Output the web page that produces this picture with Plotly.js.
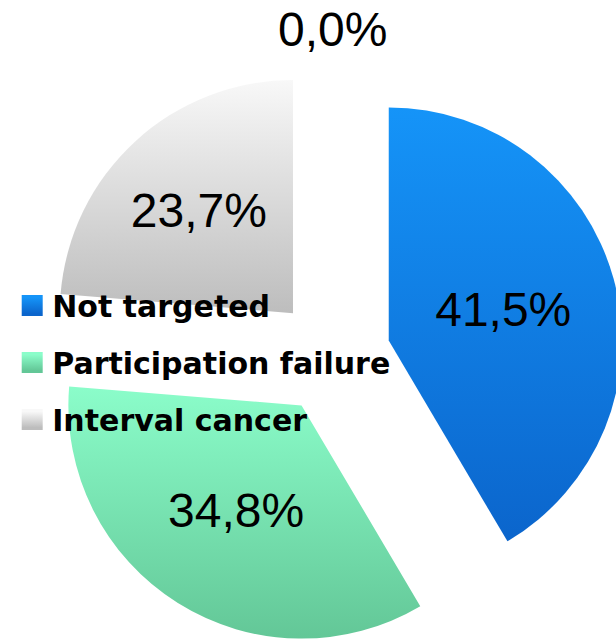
<!DOCTYPE html>
<html>
<head>
<meta charset="utf-8">
<script src="https://cdn.plot.ly/plotly-3.0.1.min.js"></script>
<style>
  html, body { margin: 0; padding: 0; background: #ffffff; overflow: hidden; }
  #chart { width: 660px; height: 700px; }
</style>
</head>
<body>
<div id="chart"></div>
<script>
// Shares of cancers by screening pathway (percent)
const categories = ['Not targeted', 'Participation failure', 'Interval cancer', 'Other'];
const shares = [41.5, 34.8, 23.7, 0.0];
const legendCategories = ['Not targeted', 'Participation failure', 'Interval cancer'];

// Slice colours: flat fallback plus a top/bottom shade used for the vertical gradient
const sliceColors = ['#1181EA', '#79E4B3', '#DCDCDC', '#FFFFFF'];
const gradientStops = [
  ['#1594F8', '#0B65CC'],
  ['#8BFDCA', '#63C797'],
  ['#F8F8F8', '#BDBDBD'],
  ['#FFFFFF', '#FFFFFF']
];

const VALUE_FONT = 'Liberation Sans, Arial, sans-serif';
const LEGEND_FONT = 'DejaVu Sans, Liberation Sans, sans-serif';

const fmtShare = v => v.toFixed(1).replace('.', ',') + '%';

const pie = {
  type: 'pie',
  values: shares,
  labels: categories,
  sort: false,
  direction: 'clockwise',
  rotation: 0,
  pull: shares.map(() => 0.25),
  texttemplate: '%{value:.1f}%',
  textposition: shares.map(v => (v > 0 ? 'inside' : 'none')),
  insidetextorientation: 'horizontal',
  textfont: { family: VALUE_FONT, size: 48, color: '#000000' },
  marker: { colors: sliceColors, line: { width: 0 } },
  showlegend: false,
  hoverinfo: 'skip'
};

// Legend entries, one group each so the rows can be spaced apart
const legendTraces = legendCategories.map((name, i) => ({
  type: 'scatter',
  mode: 'markers',
  x: [null],
  y: [null],
  name: name,
  legendgroup: 'g' + i,
  marker: { symbol: 'square', size: 16, color: sliceColors[i], line: { width: 5, color: sliceColors[i] } },
  hoverinfo: 'skip'
}));

// The empty slice sits at 12 o'clock; its value is written centred above the pie
const zeroIdx = shares.findIndex(v => v === 0);
const annotations = zeroIdx >= 0 ? [{
  xref: 'paper', yref: 'paper',
  x: 0.5, y: 1.056,
  xanchor: 'center', yanchor: 'middle',
  showarrow: false,
  text: fmtShare(shares[zeroIdx]),
  font: { family: VALUE_FONT, size: 48, color: '#000000' }
}] : [];

const layout = {
  width: 660,
  height: 700,
  margin: { l: 36, r: 36, t: 62, b: 50 },
  paper_bgcolor: '#ffffff',
  plot_bgcolor: 'rgba(0,0,0,0)',
  separators: ', ',
  showlegend: true,
  xaxis: { visible: false },
  yaxis: { visible: false },
  annotations: annotations,
  legend: {
    x: -0.0494,
    xanchor: 'left',
    y: 0.63,
    yanchor: 'top',
    bgcolor: 'rgba(0,0,0,0)',
    borderwidth: 0,
    tracegroupgap: 15,
    traceorder: 'grouped',
    itemclick: false,
    itemdoubleclick: false,
    font: { family: LEGEND_FONT, size: 30, color: '#000000', weight: 'bold' }
  }
};

const gd = document.getElementById('chart');

function makeGradient(defs, id, top, bottom) {
  const ns = 'http://www.w3.org/2000/svg';
  const g = document.createElementNS(ns, 'linearGradient');
  g.setAttribute('id', id);
  g.setAttribute('x1', '0'); g.setAttribute('y1', '0');
  g.setAttribute('x2', '0'); g.setAttribute('y2', '1');
  [[0, top], [1, bottom]].forEach(([off, col]) => {
    const s = document.createElementNS(ns, 'stop');
    s.setAttribute('offset', String(off));
    s.setAttribute('stop-color', col);
    g.appendChild(s);
  });
  defs.appendChild(g);
}

Plotly.newPlot(gd, [pie].concat(legendTraces), layout, { staticPlot: true, displayModeBar: false }).then(() => {
  const defs = gd.querySelector('svg.main-svg defs');
  gradientStops.forEach((c, i) => makeGradient(defs, 'shade' + i, c[0], c[1]));

  gd.querySelectorAll('g.slice').forEach(g => {
    const i = g.__data__ ? g.__data__.i : null;
    if (i === null || i === undefined) return;
    const p = g.querySelector('path.surface');
    if (p) p.style.fill = 'url(#shade' + i + ')';
  });

  gd.querySelectorAll('.legend g.traces').forEach((t, k) => {
    t.querySelectorAll('path.scatterpts').forEach(p => {
      p.style.fill = 'url(#shade' + k + ')';
      p.style.stroke = 'url(#shade' + k + ')';
    });
  });
});
</script>
</body>
</html>
